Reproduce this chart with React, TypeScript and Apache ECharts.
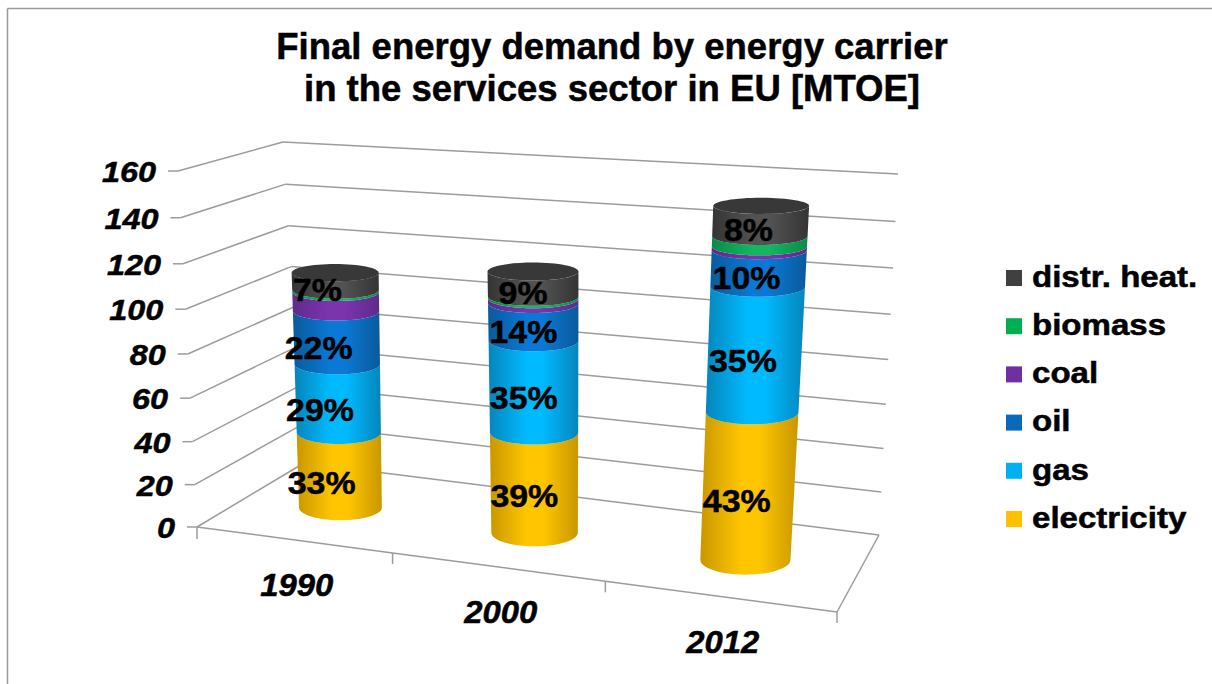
import React, { useEffect, useRef } from "react";
import * as echarts from "echarts";

// Final energy demand in the EU services sector, MTOE per carrier
const years = ["1990", "2000", "2012"];
const yTicks = [0, 20, 40, 60, 80, 100, 120, 140, 160];
const electricity = [36.3, 46.4, 65.4];
const gas = [32.3, 41.2, 53.2];
const oil = [24.5, 16.5, 15.2];
const coal = [8.8, 2.1, 1.6];
const biomass = [1, 1, 4.2];
const districtHeat = [7.8, 10.8, 12.4];

const carriers = [
  { name: "electricity", values: electricity, edge: "#c99700", mid: "#ffc600", labelled: true, key: "#ffc000" },
  { name: "gas", values: gas, edge: "#0585bb", mid: "#00baff", labelled: true, key: "#00b0f0" },
  { name: "oil", values: oil, edge: "#0a5a9c", mid: "#0a78d4", labelled: true, key: "#0a6ab8" },
  { name: "coal", values: coal, edge: "#5f2a8c", mid: "#7c34ad", labelled: false, key: "#7030a0" },
  { name: "biomass", values: biomass, edge: "#0b8a48", mid: "#10b860", labelled: false, key: "#00b050" },
  { name: "distr. heat.", values: districtHeat, edge: "#343434", mid: "#525252", labelled: true, key: "#404040" },
];

// Box of the 3D plot on screen: floor corners and ceiling corners,
// ordered front-left, front-right, back-right, back-left.
type Pt = [number, number];
const FLOOR: Pt[] = [[197, 527], [837, 612], [879, 535], [304, 463]];
const CEILING: Pt[] = [[178, 171], [857, 212], [898, 174], [283, 142]];
const COLUMN_DEPTH = 0.46;
const COLUMN_LEAN = 13;
const VERTICAL_PERSPECTIVE = 0.0545;
const ALONG_AXIS_PERSPECTIVE = 0.066;
const LABEL_SHIFT = [-18, -10, -12];
const FONT = '"Liberation Sans", Arial, sans-serif';
const GRID_COLOR = "#9c9c9c";

function quadMap(q: Pt[]) {
  const [[x0, y0], [x1, y1], [x2, y2], [x3, y3]] = q;
  const dx1 = x1 - x2, dx2 = x3 - x2, sx = x0 - x1 + x2 - x3;
  const dy1 = y1 - y2, dy2 = y3 - y2, sy = y0 - y1 + y2 - y3;
  const den = dx1 * dy2 - dx2 * dy1;
  const g = (sx * dy2 - dx2 * sy) / den;
  const h = (dx1 * sy - sx * dy1) / den;
  const a = x1 - x0 + g * x1, b = x3 - x0 + h * x3;
  const d = y1 - y0 + g * y1, e = y3 - y0 + h * y3;
  return (u: number, z: number): Pt => {
    const w = g * u + h * z + 1;
    return [(a * u + b * z + x0) / w, (d * u + e * z + y0) / w];
  };
}
const floorAt = quadMap(FLOOR);
const ceilingAt = quadMap(CEILING);

// u runs along the years, z into the depth, v is the value as a fraction of the axis.
function project(u: number, z: number, v: number): Pt {
  const k = VERTICAL_PERSPECTIVE;
  const t = (v * (1 - k)) / (1 - k * v);
  const s = u - ALONG_AXIS_PERSPECTIVE * u * (1 - u);
  const p = floorAt(s, z);
  const q = ceilingAt(s, z);
  return [p[0] + (q[0] - p[0]) * t, p[1] + (q[1] - p[1]) * t];
}

// Reads an axis position back as plot fractions
function toUnit(api: any, params: any, cat: number, value: number) {
  const cs = params.coordSys;
  const c = api.coord([cat, value]);
  return { u: (c[0] - cs.x) / cs.width, v: (cs.y + cs.height - c[1]) / cs.height };
}

// Cross-section of a column at a given height: wider towards the right and towards the top
function ring(u: number, v: number) {
  const c = project(u, COLUMN_DEPTH, v);
  const rx = 40.5 + 5.5 * u + 3 * v;
  const ry = rx * (0.17 + (c[1] - 205) * 0.00045);
  return { cx: c[0] + COLUMN_LEAN * v, cy: c[1], rx, ry };
}

function frontArc(r: { cx: number; cy: number; rx: number; ry: number }, reverse: boolean) {
  const pts: number[][] = [];
  const n = 28;
  for (let i = 0; i <= n; i++) {
    const a = (Math.PI * (reverse ? n - i : i)) / n;
    pts.push([r.cx - r.rx * Math.cos(a), r.cy + r.ry * Math.sin(a)]);
  }
  return pts;
}

function sideFill(edge: string, mid: string) {
  return new echarts.graphic.LinearGradient(0, 0, 1, 0, [
    { offset: 0, color: edge },
    { offset: 0.42, color: mid },
    { offset: 0.6, color: mid },
    { offset: 1, color: edge },
  ]);
}

const totals = years.map((_, i) => carriers.reduce((sum, c) => sum + c.values[i], 0));
const baseOf = (index: number, cat: number) =>
  carriers.slice(0, index).reduce((sum, c) => sum + c.values[cat], 0);

function columnSeries(index: number) {
  const carrier = carriers[index];
  const isTop = index === carriers.length - 1;
  return {
    type: "custom",
    name: carrier.name,
    coordinateSystem: "cartesian2d",
    z: 3,
    silent: true,
    data: years.map((_, i) => [i, baseOf(index, i), baseOf(index, i) + carrier.values[i]]),
    renderItem(params: any, api: any) {
      const cat = api.value(0);
      const low = toUnit(api, params, cat, api.value(1));
      const high = toUnit(api, params, cat, api.value(2));
      const bottom = ring(low.u, low.v);
      const top = ring(high.u, high.v);
      const children: any[] = [
        {
          type: "polygon",
          shape: { points: [...frontArc(top, false), ...frontArc(bottom, true)] },
          style: { fill: sideFill(carrier.edge, carrier.mid) },
        },
      ];
      if (isTop) {
        children.push({
          type: "ellipse",
          shape: { cx: top.cx, cy: top.cy, rx: top.rx, ry: top.ry },
          style: { fill: "#383838" },
        });
      }
      return { type: "group", children };
    },
  };
}

const labelRows = carriers.flatMap((c, index) =>
  c.labelled
    ? years.map((_, i) => [i, baseOf(index, i) + c.values[i] / 2, Math.round((c.values[i] / totals[i]) * 100)])
    : []
);

const heavyText = { stroke: "#000", lineWidth: 0.5, fill: "#000" };

const labelSeries = {
  type: "custom",
  name: "shares",
  coordinateSystem: "cartesian2d",
  z: 4,
  silent: true,
  data: labelRows,
  renderItem(params: any, api: any) {
    const cat = api.value(0);
    const { u, v } = toUnit(api, params, cat, api.value(1));
    const r = ring(u, v);
    return {
      type: "text",
      x: r.cx + LABEL_SHIFT[cat],
      y: r.cy + r.ry,
      scaleX: 1.06,
      style: {
        text: `${api.value(2)}%`,
        font: `bold 32px ${FONT}`,
        align: "center",
        verticalAlign: "middle",
        ...heavyText,
      },
    };
  },
};

const line = (from: Pt, to: Pt) => ({
  type: "line",
  shape: { x1: from[0], y1: from[1], x2: to[0], y2: to[1] },
  style: { stroke: GRID_COLOR, lineWidth: 1.5 },
});

const wallSeries = {
  type: "custom",
  name: "walls",
  coordinateSystem: "cartesian2d",
  z: 1,
  silent: true,
  data: yTicks.map((t) => [0, t]),
  renderItem(params: any, api: any) {
    const { v } = toUnit(api, params, 0, api.value(1));
    const front = project(0, 0, v);
    const backLeft = project(0, 1, v);
    const backRight = project(1, 1, v);
    return {
      type: "group",
      children: [
        line([front[0] - 10, front[1]], front),
        line(front, backLeft),
        line(backLeft, backRight),
        {
          type: "text",
          x: front[0] - 22,
          y: front[1] + 1,
          scaleX: 1.08,
          style: {
            text: String(api.value(1)),
            font: `italic bold 30px ${FONT}`,
            align: "right",
            verticalAlign: "middle",
            ...heavyText,
          },
        },
      ],
    };
  },
};

const floorSeries = {
  type: "custom",
  name: "floor",
  coordinateSystem: "cartesian2d",
  z: 1,
  silent: true,
  data: years.map((_, i) => [i, 0]),
  renderItem(params: any, api: any) {
    const cat = api.value(0);
    const { u } = toUnit(api, params, cat, 0);
    const band = 1 / years.length;
    const from = project(u - band / 2, 0, 0);
    const to = project(u + band / 2, 0, 0);
    const mid = project(u, 0, 0);
    const children: any[] = [
      line(from, to),
      line(to, [to[0], to[1] + 11]),
      {
        type: "text",
        x: mid[0] + 4,
        y: mid[1] + 46,
        scaleX: 1.06,
        style: {
          text: years[cat],
          font: `italic bold 31px ${FONT}`,
          align: "center",
          verticalAlign: "middle",
          ...heavyText,
        },
      },
    ];
    if (cat === 0) children.push(line(from, [from[0], from[1] + 12]));
    if (cat === years.length - 1) children.push(line(to, project(1, 1, 0)));
    return { type: "group", children };
  },
};

// Key on the right, heat at the top and electricity at the bottom
const legendItems = [...carriers].reverse().flatMap((c, i) => {
  const y = 278 + i * 48.2;
  return [
    { type: "rect", shape: { x: 1006, y: y - 8, width: 16, height: 16 }, style: { fill: c.key } },
    {
      type: "text",
      x: 1032,
      y: y - 1,
      scaleX: 1.14,
      style: {
        text: c.name,
        font: `bold 29px ${FONT}`,
        align: "left",
        verticalAlign: "middle",
        ...heavyText,
      },
    },
  ];
});

const frame = [
  { type: "line", shape: { x1: 7.5, y1: 8.5, x2: 1212, y2: 8.5 }, style: { stroke: "#9a9a9a", lineWidth: 1.5 } },
  { type: "line", shape: { x1: 7.5, y1: 8.5, x2: 7.5, y2: 684 }, style: { stroke: "#9a9a9a", lineWidth: 1.5 } },
];

const option = {
  animation: false,
  backgroundColor: "#ffffff",
  title: {
    text: "Final energy demand by energy carrier\nin the services sector in EU [MTOE]",
    left: 607,
    top: 20,
    textAlign: "center",
    textStyle: {
      fontFamily: FONT,
      fontWeight: "bold",
      fontSize: 36.5,
      lineHeight: 42,
      color: "#000",
      textBorderColor: "#000",
      textBorderWidth: 0.5,
    },
  },
  grid: { left: 180, top: 170, width: 700, height: 360 },
  xAxis: { type: "category", data: years, show: false },
  yAxis: { type: "value", min: 0, max: 160, interval: 20, show: false },
  graphic: [...frame, ...legendItems],
  series: [wallSeries, floorSeries, ...carriers.map((_, i) => columnSeries(i)), labelSeries],
};

export default function App() {
  const ref = useRef<HTMLDivElement>(null);
  useEffect(() => {
    const chart = echarts.init(ref.current!, undefined, { renderer: "svg" });
    chart.setOption(option as any);
    return () => chart.dispose();
  }, []);
  return <div ref={ref} style={{ position: "absolute", left: 0, top: 0, width: 1212, height: 684 }} />;
}
